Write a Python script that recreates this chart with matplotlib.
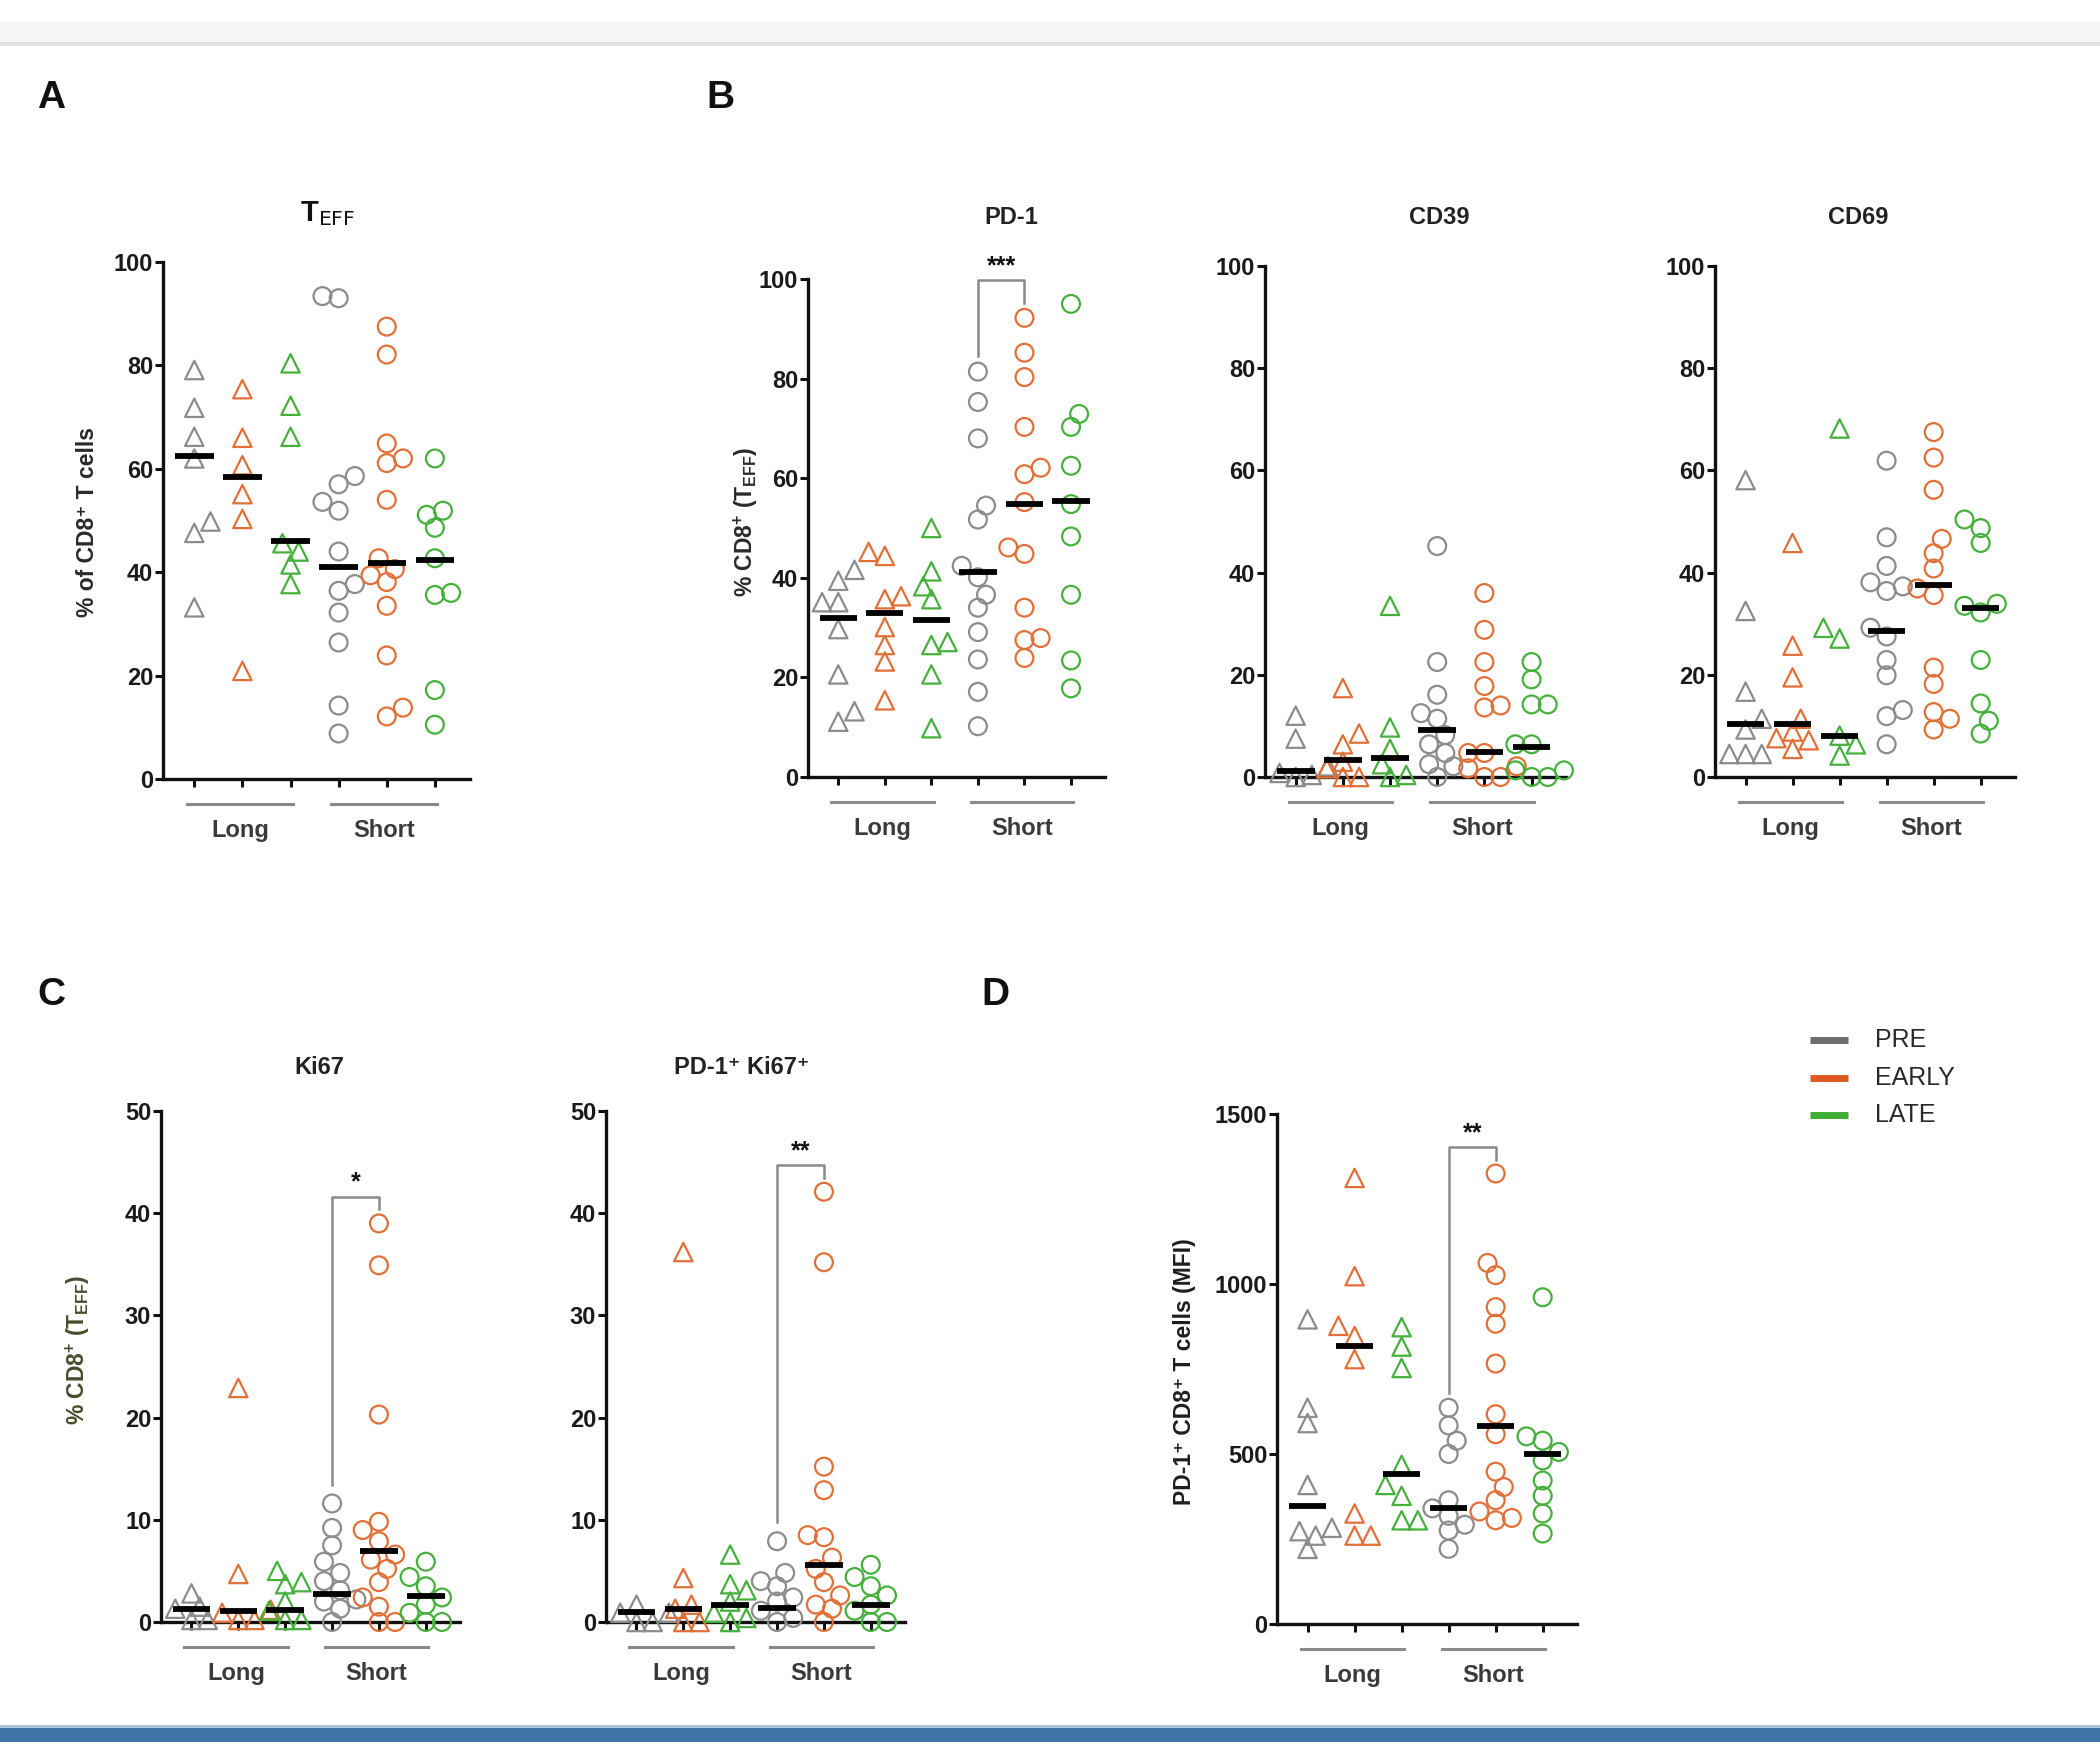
import numpy as np
import matplotlib
matplotlib.use("Agg")
import matplotlib.pyplot as plt
from matplotlib.lines import Line2D
from matplotlib.patches import Rectangle

plt.rcParams['font.family'] = ['Liberation Sans', 'DejaVu Sans']
plt.rcParams['mathtext.fontset'] = 'custom'
plt.rcParams['mathtext.rm'] = 'Liberation Sans:bold'
plt.rcParams['mathtext.it'] = 'Liberation Sans:bold'
plt.rcParams['mathtext.bf'] = 'Liberation Sans:bold'
plt.rcParams['mathtext.default'] = 'rm'

# ---------------- data ----------------
groups = ["PRE", "EARLY", "LATE"]
cohorts = ["Long", "Short"]

# A: T_EFF (% of CD8+ T cells)
teff_long_pre = [79.1, 71.8, 66.2, 62.0, 49.8, 47.6, 33.2]
teff_long_early = [75.4, 66.0, 60.7, 55.1, 50.3, 20.9]
teff_long_late = [80.4, 72.2, 66.2, 45.6, 44.0, 41.5, 37.7]
teff_short_pre = [93.4, 93.0, 58.6, 57.0, 53.6, 51.9, 44.0, 37.7, 36.4, 32.2, 26.4, 14.2, 8.8]
teff_short_early = [87.5, 82.1, 64.9, 62.0, 61.1, 54.0, 42.7, 40.6, 39.4, 38.1, 33.5, 23.9, 13.8, 12.1]
teff_short_late = [62.0, 51.9, 51.1, 48.6, 42.7, 36.0, 35.6, 17.2, 10.5]
teff_medians = [62.4, 58.4, 46.1, 41.0, 41.7, 42.3]

# B: PD-1
pd1_long_pre = [41.6, 39.4, 35.1, 35.1, 29.7, 20.6, 13.2, 11.1]
pd1_long_early = [45.2, 44.4, 36.3, 35.7, 30.1, 26.5, 23.2, 15.4]
pd1_long_late = [50.0, 41.3, 38.3, 35.7, 27.1, 26.5, 20.6, 9.8]
pd1_short_pre = [81.4, 75.3, 68.0, 54.5, 51.7, 42.4, 40.1, 36.6, 34.0, 29.1, 23.6, 17.1, 10.2]
pd1_short_early = [92.2, 85.2, 80.3, 70.3, 62.1, 60.8, 55.2, 46.1, 44.8, 34.0, 27.9, 27.5, 23.9]
pd1_short_late = [95.0, 72.9, 70.3, 62.5, 54.8, 48.3, 36.6, 23.4, 17.8]
pd1_medians = [32.0, 32.9, 31.6, 41.1, 54.8, 55.4]

# B: CD39
cd39_long_pre = [12.0, 7.5, 2.1, 0.8, 0.4, 0.0]
cd39_long_early = [17.4, 8.5, 6.4, 3.0, 1.7, 0.0, 0.0]
cd39_long_late = [33.5, 9.7, 5.5, 2.5, 0.4, 0.0]
cd39_short_pre = [45.2, 22.5, 16.1, 12.5, 11.4, 8.2, 6.4, 4.7, 2.5, 2.1, 0.0]
cd39_short_early = [36.0, 28.8, 22.5, 17.8, 14.0, 13.6, 4.7, 4.7, 2.1, 1.7, 0.0, 0.0]
cd39_short_late = [22.5, 19.1, 14.2, 14.2, 6.4, 6.4, 1.3, 1.3, 0.0, 0.0]
cd39_medians = [1.1, 3.4, 3.8, 9.1, 4.8, 5.9]

# B: CD69
cd69_long_pre = [58.1, 32.5, 16.7, 11.4, 9.3, 4.5, 4.5, 4.5]
cd69_long_early = [45.8, 25.7, 19.5, 11.4, 8.9, 7.6, 7.2, 5.5]
cd69_long_late = [68.2, 29.2, 27.1, 8.1, 6.4, 4.2]
cd69_short_pre = [61.9, 46.9, 41.3, 38.1, 37.3, 36.4, 29.2, 27.5, 22.9, 19.9, 13.1, 11.9, 6.4]
cd69_short_early = [67.5, 62.5, 56.2, 46.6, 43.8, 40.8, 36.9, 35.6, 21.4, 18.2, 12.7, 11.4, 9.3]
cd69_short_late = [50.4, 48.7, 45.8, 33.9, 33.5, 32.2, 22.9, 14.4, 11.0, 8.5]
cd69_medians = [10.4, 10.4, 8.1, 28.6, 37.5, 33.1]

# C: Ki67
ki67_long_pre = [2.8, 1.5, 1.3, 0.2, 0.2]
ki67_long_early = [22.9, 4.7, 1.2, 0.9, 0.2, 0.2]
ki67_long_late = [5.0, 3.9, 3.7, 2.0, 1.1, 0.2, 0.2]
ki67_short_pre = [11.6, 9.2, 7.5, 5.9, 4.8, 4.0, 3.1, 2.2, 2.0, 1.3, 0.0]
ki67_short_early = [39.0, 34.9, 20.3, 9.8, 9.0, 7.9, 6.6, 6.1, 5.2, 3.9, 2.4, 1.5, 0.0, 0.0]
ki67_short_late = [5.9, 4.4, 3.5, 2.4, 1.7, 0.9, 0.0, 0.0]
ki67_medians = [1.3, 1.1, 1.2, 2.7, 6.9, 2.5]

# C: PD-1+ Ki67+
pdki_long_pre = [1.7, 0.9, 0.9, 0.0, 0.0]
pdki_long_early = [36.2, 4.3, 1.7, 1.3, 0.0, 0.0]
pdki_long_late = [6.6, 3.7, 3.1, 2.0, 0.9, 0.4, 0.0]
pdki_short_pre = [7.9, 4.8, 4.0, 3.5, 2.4, 2.0, 1.1, 0.4, 0.0]
pdki_short_early = [42.1, 35.2, 15.2, 12.9, 8.5, 8.3, 6.3, 5.2, 3.9, 2.6, 1.7, 1.3, 0.0]
pdki_short_late = [5.6, 4.4, 3.5, 2.6, 1.7, 1.1, 0.0, 0.0]
pdki_medians = [1.0, 1.3, 1.7, 1.4, 5.6, 1.7]

# D: PD-1 MFI
mfi_long_pre = [896, 636, 591, 409, 283, 273, 260, 221]
mfi_long_early = [1312, 1023, 877, 847, 779, 325, 260, 260]
mfi_long_late = [873, 816, 753, 468, 409, 377, 305, 305]
mfi_short_pre = [636, 584, 539, 500, 364, 340, 318, 292, 275, 221]
mfi_short_early = [1325, 1062, 1026, 932, 883, 766, 617, 558, 448, 403, 364, 331, 312, 305]
mfi_short_late = [961, 552, 539, 506, 481, 422, 377, 325, 266]
mfi_medians = [347, 818, 442, 340, 582, 500]

# ---------------- style ----------------
W, H = 2100, 1742
colors = {"PRE": "#8c8c8c", "EARLY": "#e07038", "LATE": "#46b03c"}
legend_colors = {"PRE": "#6e6e6e", "EARLY": "#dd5a22", "LATE": "#3fae32"}

fig = plt.figure(figsize=(W / 100, H / 100), dpi=100)
fig.patch.set_facecolor("white")


def fx(x):
    return x / W


def fy(y):
    return 1 - y / H


def make_axes(L, R, T, B):
    return fig.add_axes([fx(L), fy(B), (R - L) / W, (B - T) / H])


XLIM = (0.35, 6.73)
MARK_PX = 18.0


def swarm(vals, center, ppx, ppy, diam):
    vals = np.asarray(vals, float)
    order = np.argsort(vals)
    placed = []
    offs = np.zeros(len(vals))
    step = 0.45 * diam
    mind = 0.8 * diam
    flip = 1
    for i in order:
        y = vals[i] * ppy
        cands = [0.0]
        for k in range(1, 12):
            cands += [flip * k * step, -flip * k * step]
        for c in cands:
            if all((c - px) ** 2 + (y - py) ** 2 >= mind ** 2 for px, py in placed):
                break
        if c != 0:
            flip = -flip
        offs[i] = c
        placed.append((c, y))
    return center + offs / ppx


def panel(box, series, medians, ymax, yticks, bracket=None):
    L, R, T, B = box
    ax = make_axes(L, R, T, B)
    ax.set_xlim(*XLIM)
    ax.set_ylim(0, ymax)
    ppx = (R - L) / (XLIM[1] - XLIM[0])
    ppy = (B - T) / ymax
    for spine in ["top", "right"]:
        ax.spines[spine].set_visible(False)
    for spine in ["left", "bottom"]:
        ax.spines[spine].set_linewidth(2.4)
        ax.spines[spine].set_color("#111111")
    ax.set_yticks(yticks)
    ax.set_yticklabels([str(t) for t in yticks], fontsize=17, fontweight="bold", color="#1a1a1a")
    ax.tick_params(axis="y", length=6, width=2.2, pad=1, color="#111111")
    ax.set_xticks(range(1, 7))
    ax.set_xticklabels([])
    ax.tick_params(axis="x", length=6, width=2.2, color="#111111")
    k = 0
    for ci, coh in enumerate(cohorts):
        for gi, g in enumerate(groups):
            pos = k + 1
            vals = series[k]
            xs = swarm(vals, pos, ppx, ppy, MARK_PX)
            ax.scatter(xs, vals, s=175 if coh == "Long" else 165,
                       marker="^" if coh == "Long" else "o",
                       facecolors="none", edgecolors=colors[g], linewidths=1.6,
                       clip_on=False, zorder=3)
            ax.hlines(medians[k], pos - 0.4, pos + 0.4, color="black", lw=4.2, zorder=4)
            k += 1
        # cohort bracket line and label
        x0, x1 = ci * 3 + 1 - 0.15, ci * 3 + 3 + 0.05
        ln = Line2D([x0, x1], [-25 / (B - T)] * 2, transform=ax.get_xaxis_transform(),
                    color="#8a8a8a", lw=2.2, clip_on=False)
        ax.add_line(ln)
        ax.text((x0 + x1) / 2, -51 / (B - T), coh, transform=ax.get_xaxis_transform(),
                ha="center", va="center", fontsize=17, fontweight="bold", color="#3a3a3a")
    if bracket is not None:
        top, lb, rb, lab = bracket
        ax.plot([4, 4, 5, 5], [lb, top, top, rb], color="#8a8a8a", lw=1.8,
                clip_on=False, zorder=2)
        ax.text(4.5, top + ymax * 0.004, lab, ha="center", va="bottom", fontsize=18,
                fontweight="bold", color="#111111", clip_on=False)
    return ax


def S(*lists):
    return list(lists)


panel((163, 470, 262, 779),
      S(teff_long_pre, teff_long_early, teff_long_late, teff_short_pre, teff_short_early, teff_short_late),
      teff_medians, 100, [0, 20, 40, 60, 80, 100])
panel((808, 1105, 279, 777),
      S(pd1_long_pre, pd1_long_early, pd1_long_late, pd1_short_pre, pd1_short_early, pd1_short_late),
      pd1_medians, 100, [0, 20, 40, 60, 80, 100], bracket=(99.7, 84.5, 95.2, "***"))
panel((1265, 1566, 266, 777),
      S(cd39_long_pre, cd39_long_early, cd39_long_late, cd39_short_pre, cd39_short_early, cd39_short_late),
      cd39_medians, 100, [0, 20, 40, 60, 80, 100])
panel((1715, 2015, 266, 777),
      S(cd69_long_pre, cd69_long_early, cd69_long_late, cd69_short_pre, cd69_short_early, cd69_short_late),
      cd69_medians, 100, [0, 20, 40, 60, 80, 100])
panel((161, 460, 1111, 1622),
      S(ki67_long_pre, ki67_long_early, ki67_long_late, ki67_short_pre, ki67_short_early, ki67_short_late),
      ki67_medians, 50, [0, 10, 20, 30, 40, 50], bracket=(41.6, 13.4, 40.4, "*"))
panel((606, 905, 1111, 1622),
      S(pdki_long_pre, pdki_long_early, pdki_long_late, pdki_short_pre, pdki_short_early, pdki_short_late),
      pdki_medians, 50, [0, 10, 20, 30, 40, 50], bracket=(44.7, 9.8, 43.4, "**"))
panel((1277, 1577, 1114, 1624),
      S(mfi_long_pre, mfi_long_early, mfi_long_late, mfi_short_pre, mfi_short_early, mfi_short_late),
      mfi_medians, 1500, [0, 500, 1000, 1500], bracket=(1403, 680, 1365, "**"))

# titles
fig.text(fx(328), fy(214), r"T$_{\mathsf{EFF}}$", ha="center", va="center", fontsize=21,
         fontweight="bold", color="#111111")
for txt, x, y in [("PD-1", 1011, 217), ("CD39", 1439, 217), ("CD69", 1858, 217),
                  ("Ki67", 319, 1067), ("PD-1\u207a Ki67\u207a", 742, 1067)]:
    fig.text(fx(x), fy(y), txt, ha="center", va="center", fontsize=17, fontweight="bold",
             color="#222222")

# y labels
ylabels = [("% of CD8\u207a T cells", 87, 522, "#2a2a2a"),
           (r"% CD8$^{+}$ (T$_{EFF}$)", 746, 522, "#2a2a2a"),
           (r"% CD8$^{+}$ (T$_{EFF}$)", 78, 1350, "#4a4a2c"),
           ("PD-1\u207a CD8\u207a T cells (MFI)", 1185, 1372, "#1e1e1e")]
for txt, x, y, c in ylabels:
    fig.text(fx(x), fy(y), txt, rotation=90, ha="center", va="center", fontsize=16.5,
             fontweight="bold", color=c)

# panel letters
for lab, x, y in [("A", 51, 98), ("B", 720, 98), ("C", 51, 995), ("D", 995, 995)]:
    fig.text(fx(x), fy(y), lab, ha="center", va="center", fontsize=28, fontweight="bold",
             color="#111111")

# legend
for i, g in enumerate(groups):
    yy = [1040, 1078, 1115][i]
    fig.add_artist(Line2D([fx(1810), fx(1848)], [fy(yy), fy(yy)], color=legend_colors[g],
                          lw=5, solid_capstyle="butt"))
    fig.text(fx(1875), fy(yy), g, ha="left", va="center", fontsize=18, color="#2a2a2a")

# page decorations (top toolbar band, bottom bar)
fig.add_artist(Rectangle((0, fy(42)), 1, (42 - 22) / H, transform=fig.transFigure,
                         facecolor="#f6f6f6", edgecolor="none"))
fig.add_artist(Rectangle((0, fy(46)), 1, 4 / H, transform=fig.transFigure,
                         facecolor="#e0e0e0", edgecolor="none"))
fig.add_artist(Rectangle((0, 0), 1, 14 / H, transform=fig.transFigure,
                         facecolor="#3f74a6", edgecolor="none"))
fig.add_artist(Rectangle((0, 14 / H), 1, 3 / H, transform=fig.transFigure,
                         facecolor="#a9c6de", edgecolor="none"))

fig.savefig("out.png", dpi=100)
